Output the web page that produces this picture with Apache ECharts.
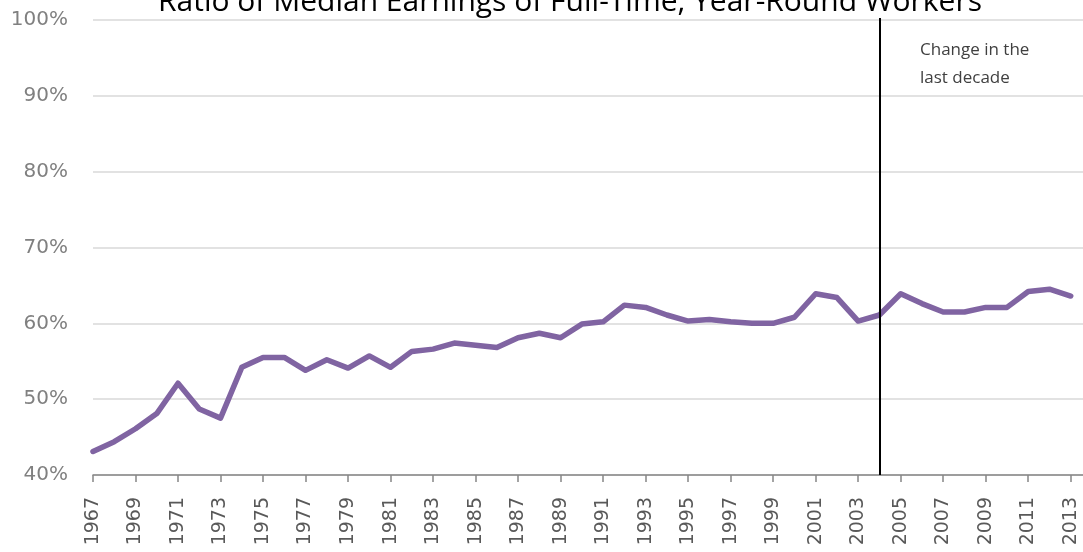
<!DOCTYPE html>
<html>
<head>
<meta charset="utf-8">
<script src="https://cdn.jsdelivr.net/npm/echarts@6/dist/echarts.min.js"></script>
<style>
html,body{margin:0;padding:0;background:#fff;}
#chart{width:1083px;height:552px;}
</style>
</head>
<body>
<div id="chart"></div>
<script>
const years = ['1967','1968','1969','1970','1971','1972','1973','1974','1975','1976','1977','1978','1979','1980','1981','1982','1983','1984','1985','1986','1987','1988','1989','1990','1991','1992','1993','1994','1995','1996','1997','1998','1999','2000','2001','2002','2003','2004','2005','2006','2007','2008','2009','2010','2011','2012','2013'];
const ratio = [43.1,44.4,46.1,48.1,52.1,48.7,47.5,54.2,55.5,55.5,53.8,55.2,54.1,55.7,54.2,56.3,56.6,57.4,57.1,56.8,58.1,58.7,58.1,59.9,60.2,62.4,62.1,61.1,60.3,60.5,60.2,60.0,60.0,60.8,63.9,63.4,60.3,61.1,63.9,62.6,61.5,61.5,62.1,62.1,64.2,64.5,63.6];
const yTicks = [40,50,60,70,80,90,100];
const titleText = 'Ratio of Median Earnings of Full-Time, Year-Round Workers';
const noteLines = ['Change in the', 'last decade'];
const markYear = '2004';

const cats = years.concat(['']);
const chart = echarts.init(document.getElementById('chart'));
chart.setOption({
  animation: false,
  title: {
    text: titleText, left: 153, top: -18,
    textStyle: {fontFamily: 'Open Sans', fontSize: 30, fontWeight: 'normal', color: '#000'}
  },
  grid: {left: 93, width: 999, top: 20, bottom: 77, outerBoundsMode: 'none', containLabel: false},
  xAxis: {
    type: 'category', data: cats, boundaryGap: false,
    axisLine: {lineStyle: {color: '#868686', width: 1.5}},
    axisTick: {show: true, interval: 1, length: 7, lineStyle: {color: '#868686', width: 1.5}},
    axisLabel: {interval: 1, rotate: 90, margin: 22, color: '#595959', fontFamily: 'DejaVu Sans', fontSize: 19},
    splitLine: {show: false}
  },
  yAxis: {
    type: 'value', min: yTicks[0], max: yTicks[yTicks.length-1], interval: 10,
    axisLine: {show: false}, axisTick: {show: false},
    axisLabel: {formatter: v => v + '%', color: '#808080', fontFamily: 'DejaVu Sans', fontSize: 20, margin: 25},
    splitLine: {lineStyle: {color: '#D9D9D9', width: 1.5}}
  },
  series: [{
    type: 'line', data: ratio, showSymbol: false, symbol: 'none',
    lineStyle: {color: '#8064A2', width: 5.5, join: 'round', cap: 'round'},
    markLine: {
      silent: true, symbol: 'none', label: {show: false},
      lineStyle: {color: '#000', width: 2, type: 'solid'},
      data: [[{xAxis: markYear, y: 18}, {xAxis: markYear, y: 475}]]
    }
  }],
  graphic: [{
    type: 'text', left: 920, top: 36,
    style: {text: noteLines.join('\n'), fontFamily: 'Open Sans', fontSize: 17, lineHeight: 28, fill: '#404040'}
  }]
});
</script>
</body>
</html>
